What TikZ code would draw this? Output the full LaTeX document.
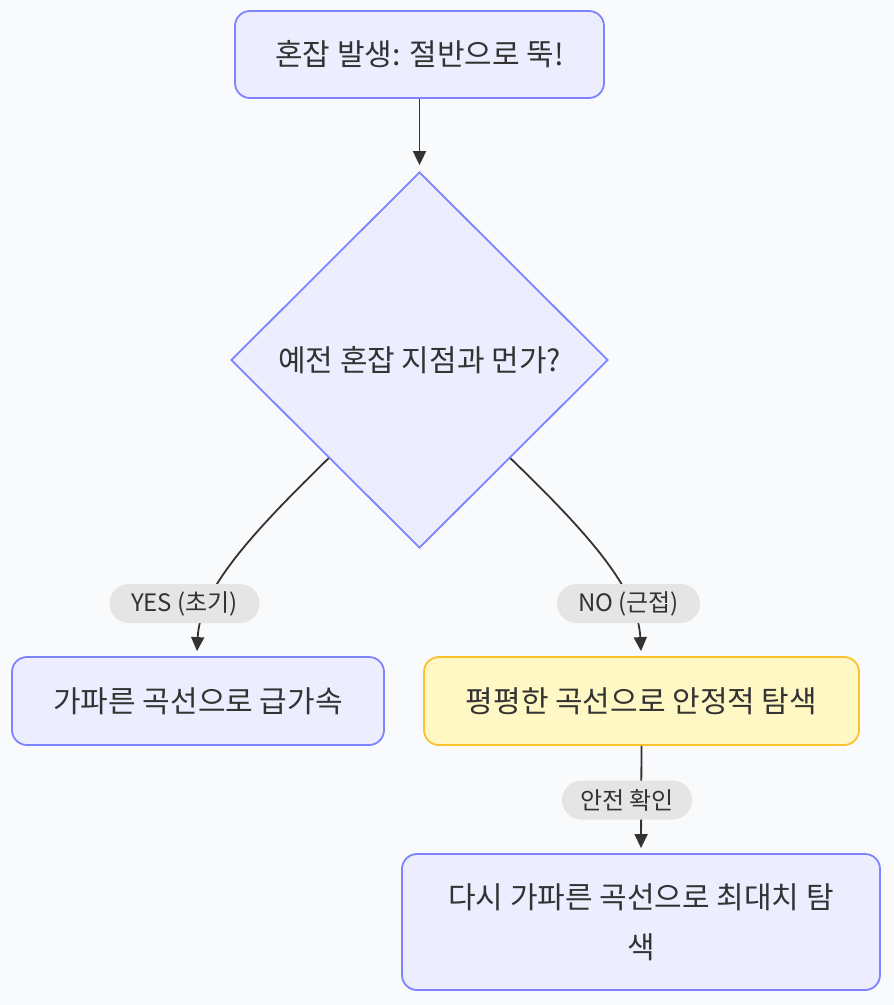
\documentclass[tikz,border=0pt]{standalone}
\usepackage{fontspec}
\setmainfont{Noto Sans CJK KR}
\usetikzlibrary{shapes.geometric,arrows.meta,calc}
\definecolor{bg}{HTML}{F9FAFC}
\definecolor{nfill}{HTML}{ECEEFF}
\definecolor{nstroke}{HTML}{7F83FF}
\definecolor{yfill}{HTML}{FFF8C4}
\definecolor{ystroke}{HTML}{F9C22E}
\definecolor{txt}{HTML}{333333}
\definecolor{lblfill}{HTML}{E5E5E5}
\tikzset{
  box/.style={draw=nstroke, fill=nfill, line width=1.8pt, rounded corners=15pt, text=txt, font=\fontsize{30}{36}\selectfont, inner sep=0pt, align=center},
  ybox/.style={box, draw=ystroke, fill=yfill},
  dia/.style={shape=diamond, draw=nstroke, fill=nfill, line width=1.8pt, text=txt, font=\fontsize{30}{36}\selectfont, inner sep=0pt, minimum width=377pt, minimum height=376pt},
  lbl/.style={fill=lblfill, rounded corners=19.5pt, text=txt, font=\fontsize{24}{28}\selectfont, inner sep=0pt, minimum height=39pt},
  conn/.style={draw=txt, line width=1.8pt, -{Triangle[length=14pt,width=13pt]}}
}
\begin{document}
\begin{tikzpicture}[x=1pt,y=-1pt]
\useasboundingbox[fill=bg] (0,0) rectangle (894,1005);
\node[box, minimum width=369pt, minimum height=87pt] (start) at (419.5,54.5) {혼잡 발생: 절반으로 뚝!};
\node[dia] (dec) at (419.5,360) {예전 혼잡 지점과 먼가?};
\node[box, minimum width=372pt, minimum height=88pt] (fast) at (198,701) {가파른 곡선으로 급가속};
\node[ybox, minimum width=435pt, minimum height=88pt] (slow) at (641.5,701) {평평한 곡선으로 안정적 탐색};
\node[box, minimum width=478pt, minimum height=136pt] (again) at (641,922) {다시 가파른 곡선으로 최대치 탐\\[14pt]색};
\coordinate (sw) at ($(dec.west)!0.52!(dec.south)$);
\coordinate (se) at ($(dec.east)!0.52!(dec.south)$);
\draw[conn] (start.south) -- ($(dec.north)+(0,-6)$);
\draw[conn] (sw) .. controls (250,535) and (200,590) .. ($(fast.north)+(-1,-5)$);
\draw[conn] (se) .. controls (590,535) and (638,590) .. ($(slow.north)+(-0.5,-5)$);
\draw[conn] (slow.south) -- ($(again.north)+(0,-5)$);
\node[lbl, minimum width=150pt] (l1) at (184.5,603.5) {YES (초기)};
\node[lbl, minimum width=143pt] (l2) at (628.5,603.5) {NO (근접)};
\node[lbl, minimum width=130pt] (l3) at (627,800) {안전 확인};
\end{tikzpicture}
\end{document}
